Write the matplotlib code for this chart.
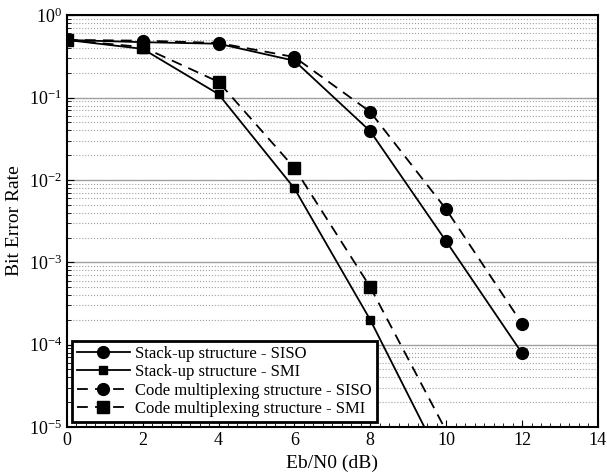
import matplotlib.pyplot as plt
from matplotlib.ticker import LogLocator, MultipleLocator, NullFormatter

plt.rcParams.update({'font.family': 'Liberation Serif', 'font.size': 13,
                     'mathtext.fontset': 'stix'})

# ── Data ──────────────────────────────────────────────────────
ebn0 = [0, 2, 4, 6, 8, 10, 12]
stack_siso = [0.5, 0.47, 0.45, 0.28, 0.039, 0.0018, 7.9e-5]
code_siso = [0.5, 0.49, 0.46, 0.31, 0.067, 0.0044, 1.8e-4]

ebn0_smi = [0, 2, 4, 6, 8, 10]
stack_smi = [0.5, 0.39, 0.11, 0.0079, 2.0e-4, 3.0e-6]
code_smi = [0.5, 0.41, 0.155, 0.014, 5.0e-4, 9.0e-6]

fig = plt.figure(figsize=(6.07, 4.74), dpi=100)
ax = fig.add_axes([0.110, 0.099, 0.875, 0.869])

# last SMI point lies below the axis floor -> line only, no marker
smi_marks = list(range(5))

ax.plot(ebn0, stack_siso, '-', color='black', lw=1.3, marker='o', ms=8.5,
        label='Stack-up structure - SISO')
ax.plot(ebn0_smi, stack_smi, '-', color='black', lw=1.3, marker='s', ms=5.5,
        markevery=smi_marks, label='Stack-up structure - SMI')
ax.plot(ebn0, code_siso, '--', color='black', lw=1.3, marker='o', ms=8.5,
        dashes=(6, 4), label='Code multiplexing structure - SISO')
ax.plot(ebn0_smi, code_smi, '--', color='black', lw=1.3, marker='s', ms=8,
        dashes=(6, 4), markevery=smi_marks,
        label='Code multiplexing structure - SMI')

ax.set_yscale('log')
ax.set_xlim(0, 14)
ax.set_ylim(1e-5, 1)
ax.xaxis.set_major_locator(MultipleLocator(2))
ax.xaxis.set_minor_locator(MultipleLocator(0.25))
ax.yaxis.set_major_locator(LogLocator(base=10, numticks=10))
ax.yaxis.set_minor_locator(LogLocator(base=10, subs=range(2, 10), numticks=20))
ax.yaxis.set_minor_formatter(NullFormatter())

ax.grid(True, which='major', axis='y', color='#a0a0a0', lw=1.0, ls='-')
ax.grid(True, which='minor', axis='y', color='#a0a0a0', lw=0.8, ls=':')
ax.tick_params(which='both', direction='in', top=False, right=False, labelsize=13)
ax.tick_params(which='major', length=5)
ax.tick_params(which='minor', length=3)
for sp in ax.spines.values():
    sp.set_linewidth(1.5)

ax.set_xlabel('Eb/N0 (dB)', fontsize=14)
ax.set_ylabel('Bit Error Rate', fontsize=14)

leg = ax.legend(loc='lower left', fontsize=12, frameon=True, fancybox=False,
                borderpad=0.3, labelspacing=0.15, handlelength=3.2,
                handletextpad=0.3, borderaxespad=0.3)
leg.get_frame().set_edgecolor('black')
leg.get_frame().set_linewidth(2.0)
leg.get_frame().set_alpha(1)

fig.savefig('out.png', dpi=100)
